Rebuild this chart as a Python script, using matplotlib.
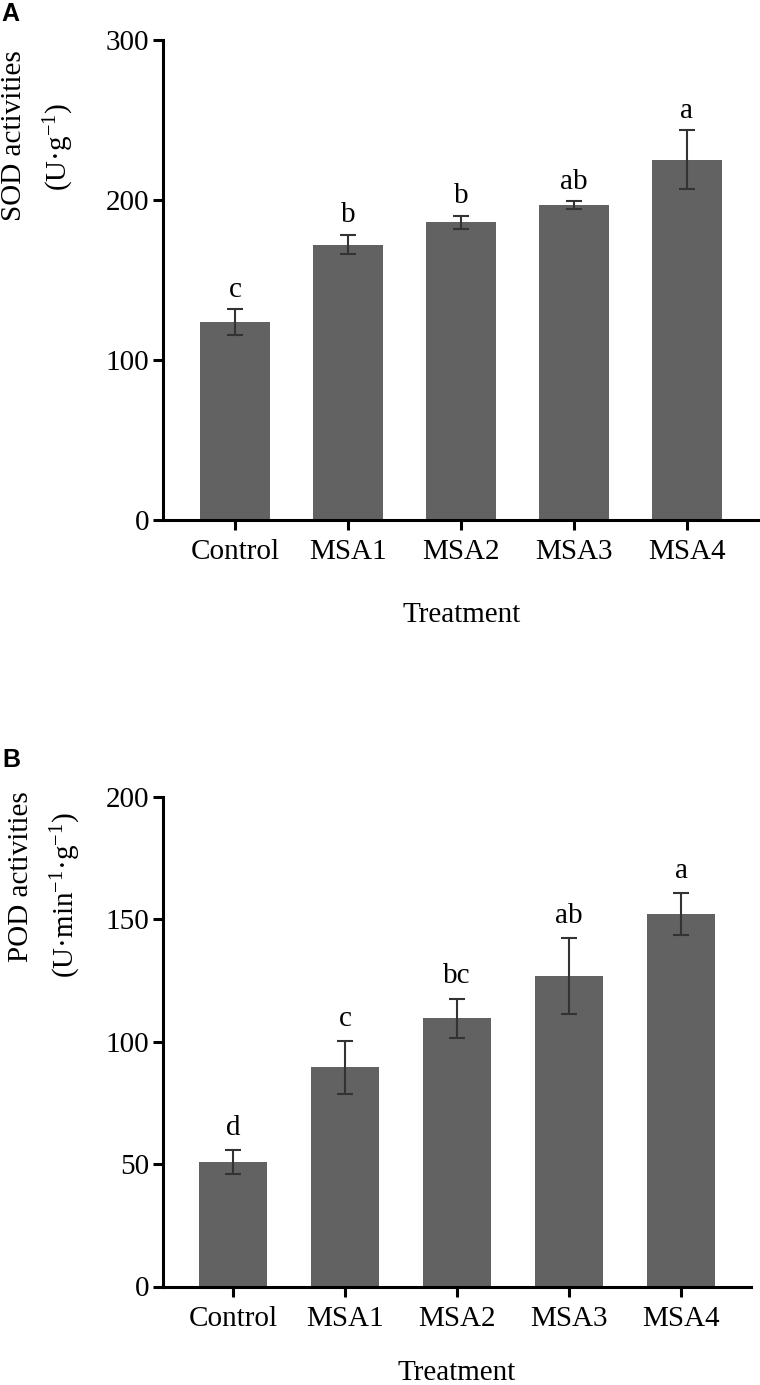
import numpy as np
import matplotlib.pyplot as plt

plt.rcParams['font.family'] = ['Liberation Serif', 'DejaVu Serif']
plt.rcParams['mathtext.fontset'] = 'custom'
plt.rcParams['mathtext.rm'] = 'Liberation Serif'
plt.rcParams['mathtext.it'] = 'Liberation Serif:italic'

# data
treatments = ['Control', 'MSA1', 'MSA2', 'MSA3', 'MSA4']
sod_mean = [123.5, 172, 186, 196.5, 225]
sod_err = [8, 6, 4, 2.5, 18.5]
sod_letters = ['c', 'b', 'b', 'ab', 'a']
pod_mean = [50.8, 89.5, 109.5, 126.8, 152]
pod_err = [5, 10.8, 8, 15.4, 8.5]
pod_letters = ['d', 'c', 'bc', 'ab', 'a']

W, H = 760, 1385
fig = plt.figure(figsize=(W / 100, H / 100), dpi=100)


def px_axes(l, t, r, b):
    return fig.add_axes([l / W, 1 - b / H, (r - l) / W, (b - t) / H])


def panel(ax, means, errs, letters, ymax, step, xlim, lab_off, xpad):
    x = np.arange(len(treatments))
    ax.bar(x, means, width=0.615, color='#626262', zorder=1)
    ax.errorbar(x, means, yerr=errs, fmt='none', ecolor='#333333',
                elinewidth=1.5, capsize=6, capthick=1.5, zorder=2)
    for xi, m, e, lab in zip(x, means, errs, letters):
        ax.annotate(lab, (xi, m + e), xytext=(0, lab_off), textcoords='offset points',
                    ha='center', va='baseline', fontsize=21)
    ax.set_xlim(*xlim)
    ax.set_ylim(0, ymax)
    ax.set_yticks(np.arange(0, ymax + 1, step))
    ax.set_xticks(x)
    ax.set_xticklabels(treatments)
    for s in ['top', 'right']:
        ax.spines[s].set_visible(False)
    for s in ['left', 'bottom']:
        ax.spines[s].set_linewidth(2.2)
    ax.tick_params(axis='both', width=2.2, length=7, labelsize=21)
    ax.tick_params(axis='x', pad=7)
    ax.tick_params(axis='y', pad=3)
    ax.set_xlabel('Treatment', fontsize=21, labelpad=xpad)


ax1 = px_axes(163, 40, 760, 519.5)
panel(ax1, sod_mean, sod_err, sod_letters, 300, 100, (-0.637, 4.646), 9, 27)

ax2 = px_axes(163, 796.7, 751, 1286.5)
panel(ax2, pod_mean, pod_err, pod_letters, 200, 50, (-0.625, 4.625), 11, 20)

# y labels (two lines each)
fig.text(14 / W, 1 - 136 / H, 'SOD activities', rotation=90, ha='center', va='center', fontsize=21)
fig.text(59 / W, 1 - 147 / H, r'(U·g$^{-1}$)', rotation=90, ha='center', va='center', fontsize=21)
fig.text(21 / W, 1 - 877 / H, 'POD activities', rotation=90, ha='center', va='center', fontsize=21)
fig.text(66 / W, 1 - 895 / H, r'(U·min$^{-1}$·g$^{-1}$)', rotation=90, ha='center', va='center', fontsize=21)

# panel letters
fig.text(1 / W, 1 - 14 / H, 'A', family='Liberation Sans', weight='bold', fontsize=18, ha='left', va='center')
fig.text(2 / W, 1 - 760 / H, 'B', family='Liberation Sans', weight='bold', fontsize=18, ha='left', va='center')

fig.savefig('out.png', dpi=100)
